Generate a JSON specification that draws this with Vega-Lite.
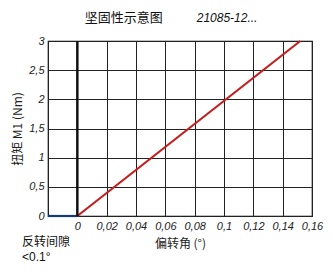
{
  "$schema": "https://vega.github.io/schema/vega-lite/v6.json",
  "width": 264,
  "height": 175,
  "autosize": {"type": "none"},
  "padding": {"left": 48, "top": 41, "right": 21, "bottom": 58},
  "background": "white",
  "config": {
    "font": "Liberation Sans, Noto Sans CJK SC",
    "view": {"stroke": "black", "strokeWidth": 1.2}
  },
  "layer": [
    {
      "data": {
        "values": [
          {"angle": -0.02, "torque": 0, "series": "gap"},
          {"angle": 0, "torque": 0, "series": "gap"},
          {"angle": 0, "torque": 0, "series": "stiff"},
          {"angle": 0.152, "torque": 3, "series": "stiff"}
        ]
      },
      "mark": {"type": "line", "strokeWidth": 2.2},
      "encoding": {
        "x": {
          "field": "angle", "type": "quantitative",
          "scale": {"domain": [-0.02, 0.16], "nice": false, "zero": false},
          "axis": {
            "values": [-0.02, 0, 0.02, 0.04, 0.06, 0.08, 0.1, 0.12, 0.14, 0.16],
            "tickCount": 20,
            "labelExpr": "datum.value < -0.01 ? '' : replace(format(datum.value, ''), '.', ',')",
            "labelFontStyle": "italic", "labelFontSize": 11, "labelColor": "#222",
            "labelPadding": 4, "ticks": false, "domain": false, "labelOverlap": false,
            "gridColor": "#222", "gridOpacity": 1, "gridWidth": 1,
            "title": "偏转角 (°)", "titleFontSize": 12, "titleFontWeight": "normal",
            "titleColor": "#222", "titlePadding": 7, "labelFlush": false,
            "titleFont": "Noto Sans CJK SC"
          }
        },
        "y": {
          "field": "torque", "type": "quantitative",
          "scale": {"domain": [0, 3], "nice": false},
          "axis": {
            "values": [0, 0.5, 1, 1.5, 2, 2.5, 3],
            "tickCount": 20,
            "labelExpr": "replace(format(datum.value, ''), '.', ',')",
            "labelFontStyle": "italic", "labelFontSize": 11, "labelColor": "#222",
            "labelPadding": 4, "ticks": false, "domain": false, "labelOverlap": false,
            "gridColor": "#222", "gridOpacity": 1, "gridWidth": 1,
            "title": "扭矩 M1 (Nm)", "titleFontSize": 12, "titleFontWeight": "normal",
            "titleColor": "#222", "titlePadding": 4, "labelFlush": false,
            "titleFont": "Noto Sans CJK SC"
          }
        },
        "color": {
          "field": "series", "type": "nominal",
          "scale": {"domain": ["gap", "stiff"], "range": ["#173876", "#c41e1e"]},
          "legend": null
        }
      }
    },
    {
      "data": {"values": [{}]},
      "mark": {"type": "rule", "color": "#111", "strokeWidth": 2.5},
      "encoding": {
        "x": {"datum": 0},
        "y": {"datum": 0},
        "y2": {"datum": 3}
      }
    },
    {
      "data": {"values": [{}]},
      "mark": {"type": "text", "align": "center", "baseline": "middle", "fontSize": 13, "color": "#111", "font": "Noto Sans CJK SC"},
      "encoding": {
        "x": {"datum": 0.0317},
        "y": {"datum": 3.39},
        "text": {"value": "坚固性示意图"}
      }
    },
    {
      "data": {"values": [{}]},
      "mark": {"type": "text", "align": "left", "baseline": "middle", "fontSize": 12, "fontStyle": "italic", "color": "#111"},
      "encoding": {
        "x": {"datum": 0.0814},
        "y": {"datum": 3.39},
        "text": {"value": "21085-12..."}
      }
    },
    {
      "data": {"values": [{}]},
      "mark": {"type": "text", "align": "left", "baseline": "middle", "fontSize": 12, "color": "#111", "font": "Noto Sans CJK SC"},
      "encoding": {
        "x": {"datum": -0.0377},
        "y": {"datum": -0.44},
        "text": {"value": "反转间隙"}
      }
    },
    {
      "data": {"values": [{}]},
      "mark": {"type": "text", "align": "left", "baseline": "middle", "fontSize": 12, "color": "#111", "font": "Liberation Sans"},
      "encoding": {
        "x": {"datum": -0.0377},
        "y": {"datum": -0.7},
        "text": {"value": "<0.1°"}
      }
    }
  ]
}
